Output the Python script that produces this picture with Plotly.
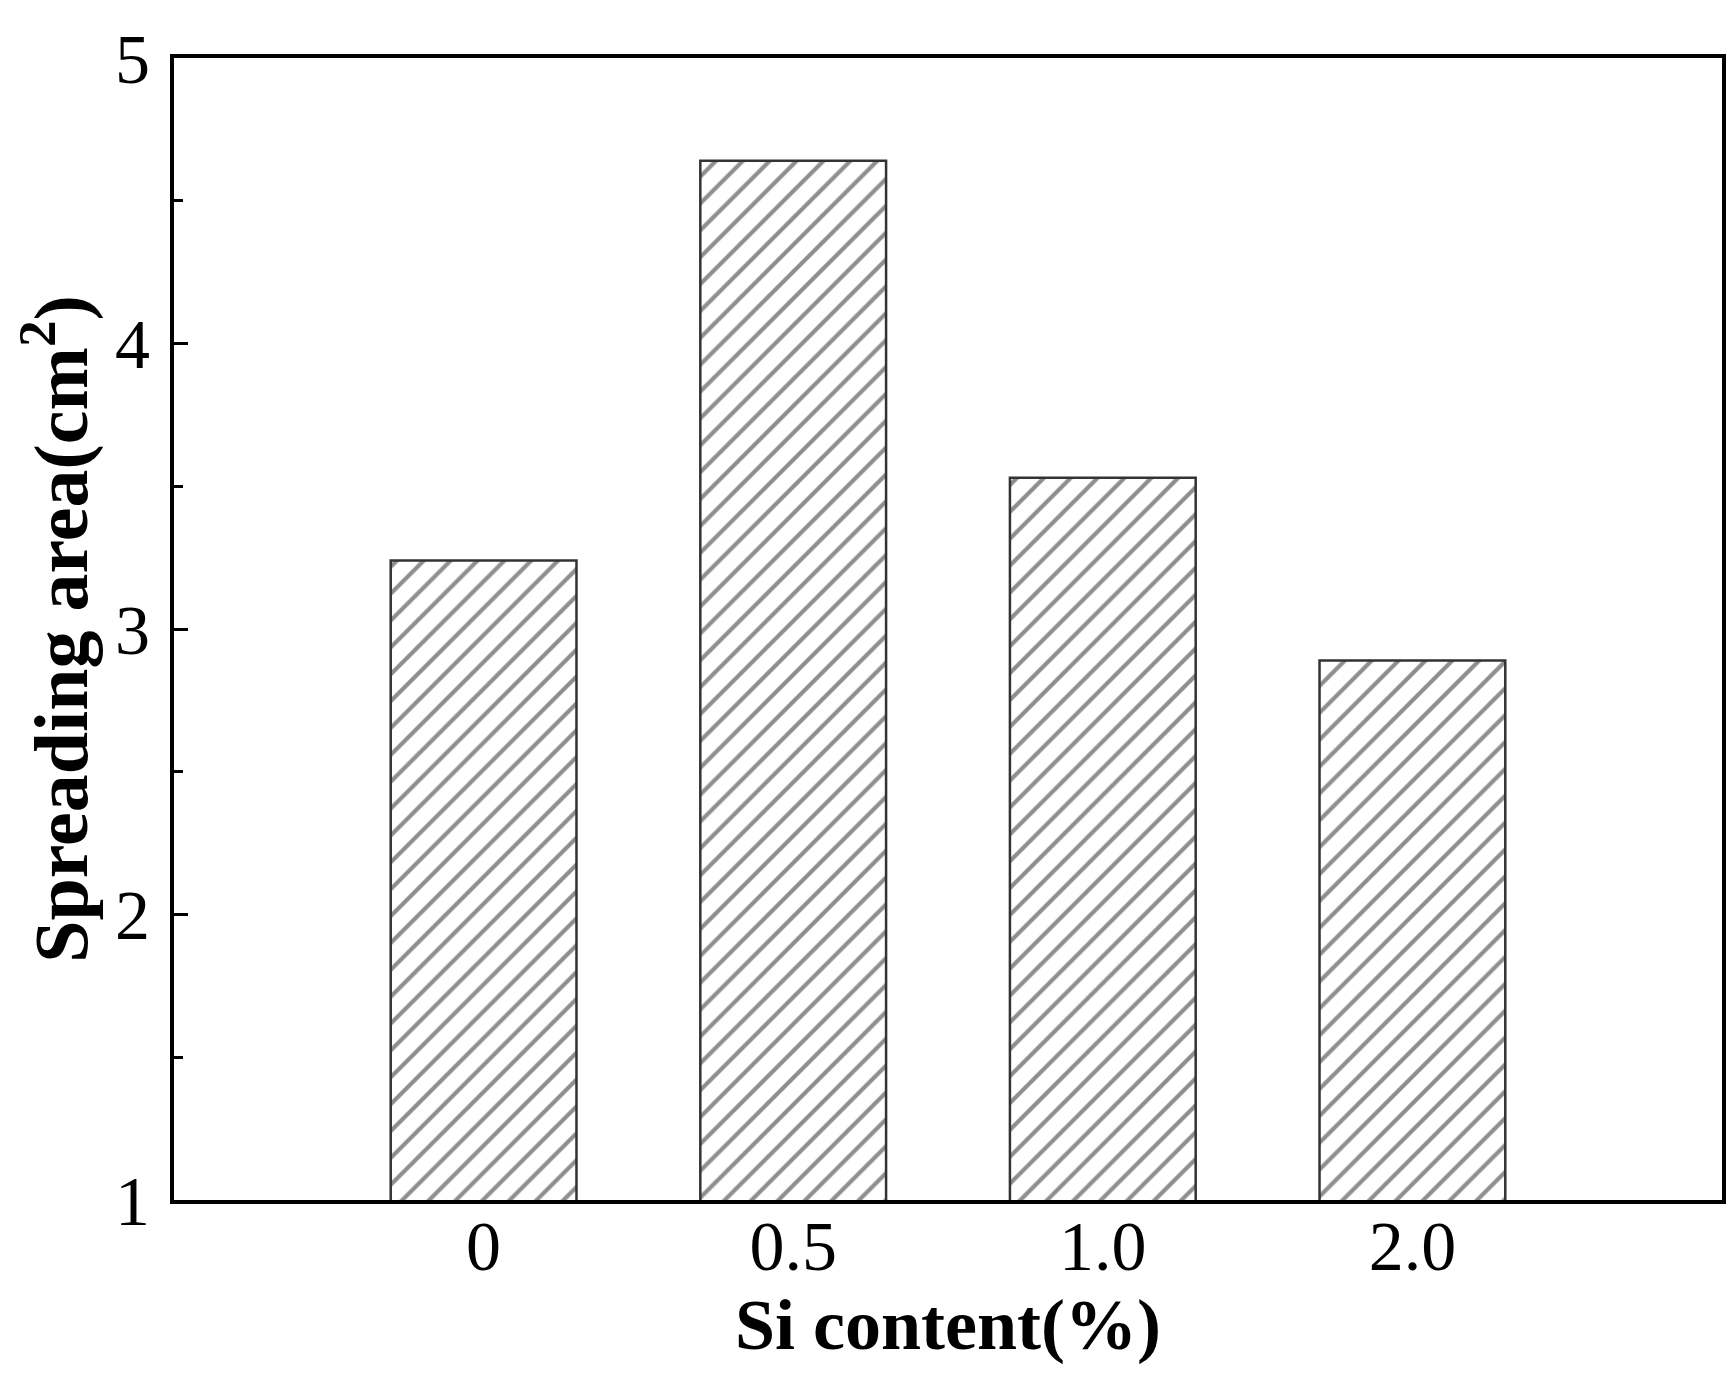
import plotly.graph_objects as go

si_content = ['0', '0.5', '1.0', '2.0']
spreading_area = [3.24, 4.64, 3.53, 2.89]

FONT = 'Liberation Serif'

fig = go.Figure()
fig.add_trace(go.Bar(
	x = si_content,
	y = spreading_area,
	width = 0.6,
	marker = dict(
		color = 'white',
		line = dict(color='#333333', width=2.5),
		pattern = dict(shape='/', size=19, solidity=0.22, fgcolor='#1e1e1e', bgcolor='white'),
	),
	showlegend = False,
))

fig.update_layout(
	width = 1735,
	height = 1379,
	margin = dict(l=166, r=21, t=47, b=187),
	paper_bgcolor = 'white',
	plot_bgcolor = 'white',
	font = dict(family=FONT, color='black', size=70),
)
fig.update_xaxes(
	type = 'category',
	range = [-1, 4],
	showline = True,
	linecolor = 'black',
	linewidth = 4,
	mirror = True,
	ticks = '',
	showgrid = False,
	zeroline = False,
	tickfont = dict(family=FONT, size=70),
	ticklabelstandoff = -18,
	title = dict(text='<b>Si content(%)</b>', font=dict(family=FONT, size=72), standoff=0),
)
fig.update_yaxes(
	range = [1, 5],
	dtick = 1,
	showline = True,
	linecolor = 'black',
	linewidth = 4,
	mirror = True,
	ticks = 'inside',
	ticklen = 14,
	tickwidth = 3,
	tickcolor = 'black',
	minor = dict(dtick=0.5, ticks='inside', ticklen=9, tickwidth=3, tickcolor='black'),
	showgrid = False,
	zeroline = False,
	tickfont = dict(family=FONT, size=70),
	ticklabelstandoff = 6,
	title = dict(text='<b>Spreading area(cm<sup>2</sup>)</b>', font=dict(family=FONT, size=76), standoff=8),
)

fig.write_html('out.html')
